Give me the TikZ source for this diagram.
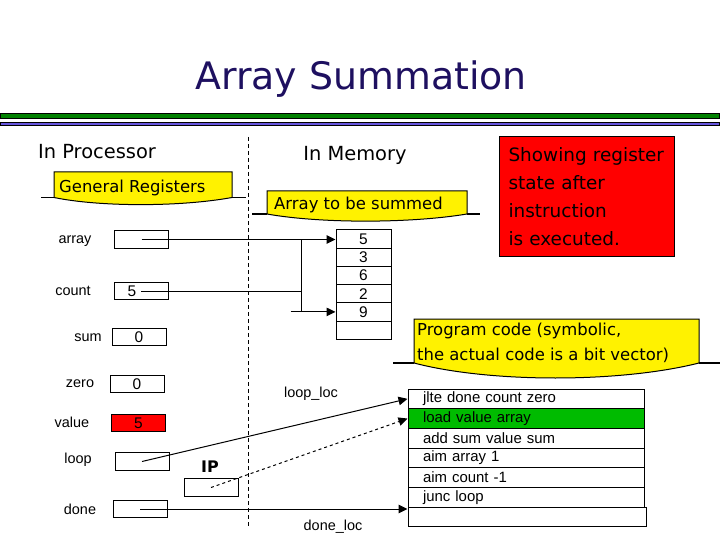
\documentclass[tikz,border=0pt]{standalone}
\usepackage{fontspec}
\setmainfont{DejaVu Sans}
\newfontfamily\labfont{Liberation Sans}
\usetikzlibrary{arrows.meta,calc}

\definecolor{titlecol}{RGB}{30,16,96}
\definecolor{bargreen}{RGB}{0,128,0}
\definecolor{barblue}{RGB}{102,85,221}
\definecolor{codegreen}{RGB}{0,187,0}

\tikzset{
 lbl/.style={font=\labfont\fontsize{14.5}{16}\selectfont, inner sep=0},
 reg/.style={draw, line width=1bp, minimum width=54bp, minimum height=17.5bp, inner sep=0, font=\labfont\fontsize{15.5}{17}\selectfont},
 memcell/.style={draw, line width=1bp, minimum width=55bp, minimum height=18.2bp, inner sep=0, font=\labfont\fontsize{15.5}{17}\selectfont},
 coderow/.style={draw, line width=1bp, minimum height=19.7bp, text width=206bp, inner xsep=15bp, inner ysep=0, align=left, font=\labfont\fontsize{15}{17}\selectfont},
 head/.style={font=\fontsize{19.5}{23}\selectfont, inner sep=0},
 callfont/.style={font=\fontsize{16.5}{24.5}\selectfont, inner sep=0},
 callout/.style={draw, line width=1bp, fill=yellow},
 baseln/.style={line width=1.6bp},
 conn/.style={line width=1bp, -{Triangle[length=9bp,width=8.5bp]}},
}

\begin{document}
\begin{tikzpicture}[x=1bp,y=-1bp]
\useasboundingbox (0,0) rectangle (720,540);

% title and bars
\node[font=\fontsize{38}{40}\selectfont, text=titlecol, inner sep=0] (title) at (361,79) {Array Summation};
\draw[line width=0.8bp, fill=bargreen] (0.5,113) rectangle (719.5,118.5);
\draw[line width=0.8bp, fill=barblue] (0.5,122) rectangle (719.5,125.5);

% divider
\draw[line width=1bp, dash pattern=on 4bp off 3bp] (248,137) -- (248,527);

% headings
\node[head] (inproc) at (97,152) {In Processor};
\node[head] (inmem) at (355,155) {In Memory};

% callout: General Registers
\draw[callout] (54,197.5) -- (54,172) -- (232,172) -- (232,197.5) .. controls (180,207) and (100,207) .. (54,197.5);
\draw[baseln] (41,197.5) -- (54,197.5) (232,197.5) -- (246,197.5);
\node[callfont, anchor=west] (genreg) at (59,188) {General Registers};

% callout: Array to be summed
\draw[callout] (267,214) -- (267,191) -- (467,191) -- (467,214) .. controls (410,223.5) and (320,223.5) .. (267,214);
\draw[baseln] (252,214) -- (267,214) (467,214) -- (480,214);
\node[callfont, anchor=west] (arrsum) at (274,205) {Array to be summed};

% callout: Program code
\draw[callout] (414,363) -- (414,319) -- (699,319) -- (699,363) .. controls (620,383) and (490,383) .. (414,363);
\draw[baseln] (393,363) -- (414,363) (699,363) -- (720,363);
\node[callfont, anchor=north west, align=left] (progcode) at (417,323) {Program code (symbolic,\\the actual code is a bit vector)};

% red note
\node[draw, line width=1bp, fill=red, anchor=north west, minimum width=175bp, minimum height=120bp,
      text width=157bp, inner xsep=9bp, align=left, font=\fontsize{18.5}{28}\selectfont] (note) at (499,136)
      {Showing register\\state after\\instruction\\is executed.};

% register labels
\node[lbl] (larray) at (75,241) {array};
\node[lbl] (lcount) at (73,291) {count};
\node[lbl] (lsum) at (88,338) {sum};
\node[lbl] (lzero) at (80,384) {zero};
\node[lbl] (lvalue) at (72,422) {value};
\node[lbl] (lloop) at (78,460) {loop};
\node[lbl] (ldone) at (80,509) {done};
\node[font=\bfseries\fontsize{16}{18}\selectfont, inner sep=0] (lip) at (210,467) {IP};

% registers
\node[reg] (arrayreg) at (141.5,239.5) {};
\node[reg] (countreg) at (141,291) {5\hspace*{18bp}};
\node[reg] (sumreg) at (139,337) {0};
\node[reg] (zeroreg) at (137,384) {0};
\node[reg, fill=red] (valuereg) at (138.5,423) {5};
\node[reg] (loopreg) at (142,461.5) {};
\node[reg] (ipreg) at (211,487.5) {};
\node[reg] (donereg) at (140,509) {};

% memory cells
\node[memcell] (mem1) at (363.5,239.1) {5};
\node[memcell] (mem2) at (363.5,257.3) {3};
\node[memcell] (mem3) at (363.5,275.5) {6};
\node[memcell] (mem4) at (363.5,293.7) {2};
\node[memcell] (mem5) at (363.5,311.9) {9};
\node[memcell] (mem6) at (363.5,330.1) {};

% code rows
\node[coderow] (code1) at (526,398.85) {jlte done count zero};
\node[coderow, fill=codegreen] (code2) at (526,418.55) {load value array};
\node[coderow] (code3) at (526,438.25) {add sum value sum};
\node[coderow] (code4) at (526,457.95) {aim array 1};
\node[coderow] (code5) at (526,477.65) {aim count -1};
\node[coderow] (code6) at (526,497.35) {junc loop};
\node[coderow, minimum width=238bp, text width=208bp] (code7) at (527,517.05) {};

\node[lbl] (looploc) at (311,394) {loop\_loc};
\node[lbl] (doneloc) at (333,527) {done\_loc};

% connectors
\coordinate (jx) at ($(mem5.west)+(-34,0)$);
\coordinate (stub) at ($(mem5.west)+(-45,0)$);
\draw[conn] (arrayreg.center) -- (arrayreg.center -| mem1.west);
\draw[line width=1bp] (countreg.center) -- (countreg.center -| jx);
\draw[line width=1bp] (arrayreg.center -| jx) -- (jx);
\draw[conn] (stub) -- (mem5.west);
\draw[conn] (loopreg.center) -- (code1.west);
\draw[conn, dash pattern=on 3bp off 3bp] (ipreg.center) -- (code2.west);
\draw[conn] (donereg.center) -- (donereg.center -| code7.west);
\end{tikzpicture}
\end{document}
